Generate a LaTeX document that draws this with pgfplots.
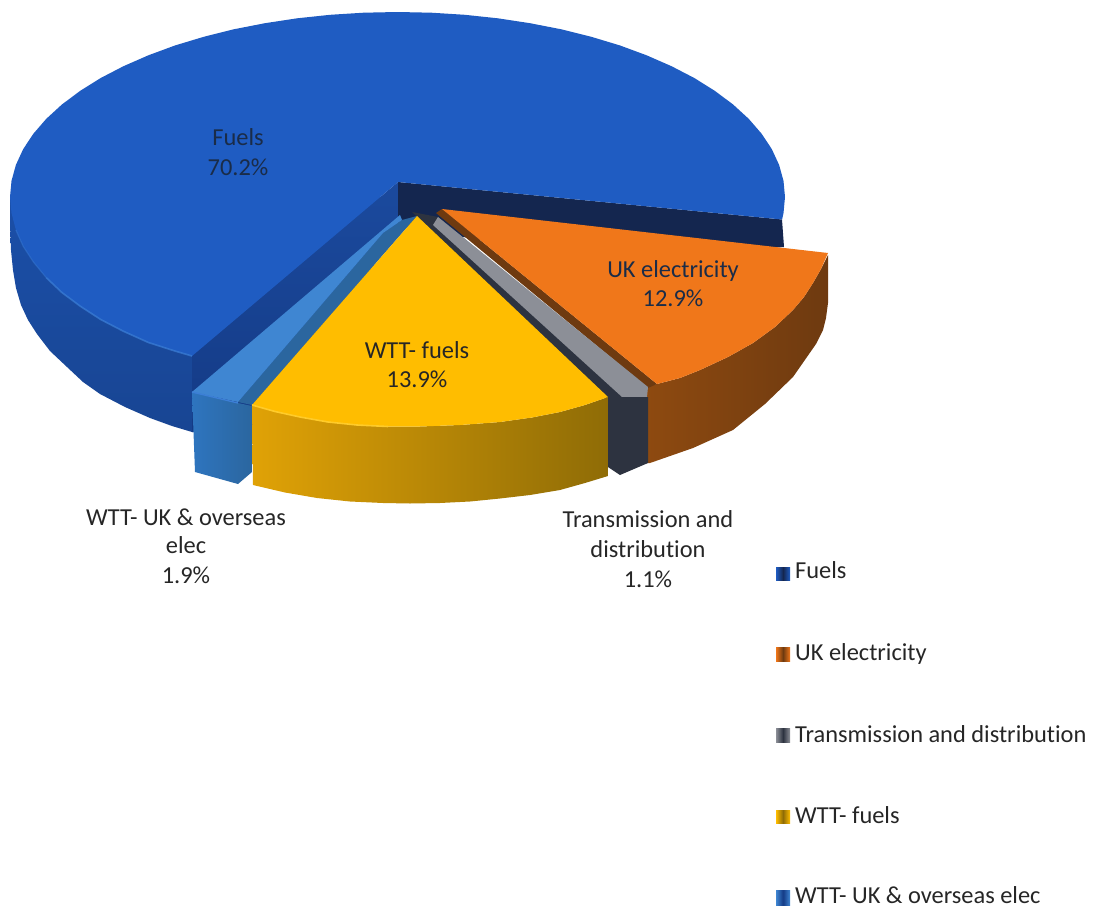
\documentclass[border=0pt]{standalone}
\usepackage{fontspec}
\setmainfont{Carlito}[Ligatures=CommonOff]
\usepackage{pgfplots}
\pgfplotsset{compat=1.18}
\definecolor{fueltop}{HTML}{1F5CC2}
\definecolor{fuelside}{HTML}{1B4FA8}
\definecolor{fuelsidedark}{HTML}{184593}
\definecolor{fuelwallL}{HTML}{143A85}
\definecolor{fuelwallU}{HTML}{1B4A9E}
\definecolor{fuelwallR}{HTML}{14264F}
\definecolor{fuelglow}{HTML}{3C7FD6}
\definecolor{elec}{HTML}{F0771A}
\definecolor{elecwall}{HTML}{6E3A10}
\definecolor{elecsideA}{HTML}{8E4A10}
\definecolor{tdtop}{HTML}{8C8F97}
\definecolor{tdwall}{HTML}{2D3340}
\definecolor{wtt}{HTML}{FFBD00}
\definecolor{wttglow}{HTML}{FFCB2A}
\definecolor{wttA}{HTML}{E0A206}
\definecolor{wttB}{HTML}{B98800}
\definecolor{wttC}{HTML}{8F6C06}
\definecolor{ovtop}{HTML}{3F86D2}
\definecolor{ovwall}{HTML}{2B669F}
\definecolor{ovfront}{HTML}{2E75BF}
\definecolor{ink}{HTML}{262626}
\definecolor{inkdark}{HTML}{1A2C48}
\newcommand{\lab}[3]{\node[anchor=base,inner sep=0pt,text=#3] at (axis cs:#1) {#2};}
\newcommand{\leg}[2]{\node[anchor=base west,inner sep=0pt,text=ink] at (axis cs:795,#1) {#2};}
\begin{document}
\begin{tikzpicture}
\begin{axis}[
  scale only axis, width=1097pt, height=910pt,
  xmin=0, xmax=1097, ymin=0, ymax=910, y dir=reverse,
  axis lines=none, no markers, clip=false,
  every axis plot/.append style={draw=none, line join=round},
  font=\fontsize{24.4}{28}\selectfont,
]
% Frame that fixes the extent of the page
\addplot[draw=none, fill=none] coordinates {(0,0) (1097,0) (1097,910) (0,910)} -- cycle;
% Fuels: outer wall
\addplot[top color=fuelside, bottom color=fuelsidedark] coordinates {
 (10,197) (10,225) (11,250) (13,270) (16,288) (21,305) (28,320) (37,334) (50,351) (67,367)
 (83,382) (100,394) (125,407) (150,418) (172,426) (192,432)
 (260,432) (398,230) (398,197)} -- cycle;
% Fuels: cut faces
\addplot[top color=fuelwallU, bottom color=fuelwallL] coordinates {
 (398,182) (192,356) (192,432) (260,432) (400,226)} -- cycle;
\addplot[fill=fuelwallR] coordinates {
 (398,182) (782,219.5) (784,247) (600,260) (398,226)} -- cycle;
% Fuels: top face
\addplot[fill=fueltop] coordinates {
 (398,182) (782.1,219.5) (783.5,213.1) (785,197) (783.5,180.9) (779.1,164.9) (771.8,149.1)
 (761.6,133.7) (748.7,118.8) (733.1,104.5) (714.9,90.9) (694.3,78.0) (671.5,66.2)
 (646.6,55.3) (619.8,45.4) (591.3,36.8) (561.3,29.3) (530.0,23.2) (497.8,18.3)
 (464.8,14.8) (431.3,12.7) (397.5,12) (363.7,12.7) (330.2,14.8) (297.2,18.3) (265.0,23.2)
 (233.7,29.3) (203.8,36.8) (175.2,45.4) (148.4,55.3) (123.5,66.2) (100.7,78.0) (80.1,90.9)
 (61.9,104.5) (46.3,118.8) (33.4,133.7) (23.2,149.1) (15.9,164.9) (11.5,180.9) (10,197)
 (11.5,213.1) (15.9,230) (23.2,246.4) (33.4,262) (46.3,277.7) (61.9,292.5) (80.1,306.1)
 (100.7,319.5) (123.5,331.3) (148.4,342.5) (175.2,351.1) (192,356)} -- cycle;
% Fuels: lit rim along the lower edge of the top face
\addplot[draw=fuelglow, line width=1.6pt, opacity=.7] coordinates {
 (46.3,277.7) (61.9,292.5) (80.1,306.1) (100.7,319.5) (123.5,331.3) (148.4,342.5) (175.2,351.1) (192,356)};
\addplot[draw=fuelglow, line width=1.2pt, opacity=.4] coordinates {(15.9,230) (23.2,246.4) (33.4,262) (46.3,277.7)};
% UK electricity: outer wall, inner wall, top face
\addplot[left color=elecsideA, right color=elecwall] coordinates {
 (645,387) (657,384) (680,378) (700,370) (728,357) (753,343) (775,327) (793,310) (804,297)
 (813,283) (821,269) (828,255) (828,303) (826,318) (823,330) (816,344) (793,377) (765,404)
 (733,430) (693,448) (650,463) (645,463)} -- cycle;
\addplot[fill=elecwall] coordinates {(442,209) (657,384) (648,388) (436,213)} -- cycle;
\addplot[fill=elec] coordinates {
 (442,209) (828,253) (821,269) (813,283) (804,297) (793,310) (775,327) (753,343) (728,357)
 (700,370) (680,378) (657,384)} -- cycle;
% Transmission and distribution: inner wall, top face, front
\addplot[fill=tdwall] coordinates {(412,212) (438,217) (648,390) (622,398) (600,398)} -- cycle;
\addplot[fill=tdtop] coordinates {(438,217) (648,387) (647,397) (622,397) (433,225)} -- cycle;
\addplot[fill=tdwall] coordinates {(608,397) (648,397) (648,463) (620,475) (608,467)} -- cycle;
% WTT- UK & overseas elec: inner wall, top face, front
\addplot[fill=ovwall] coordinates {(383,233) (238,402) (252,405) (417,216) (402,220)} -- cycle;
\addplot[fill=ovtop] coordinates {(400,215) (192,392) (238,402) (383,233) (402,220)} -- cycle;
\addplot[left color=ovfront, right color=ovwall] coordinates {
 (192,392) (238,403) (252,406) (252,472) (238,484) (195,472)} -- cycle;
\addplot[draw=fuelglow, line width=1.4pt] coordinates {(192,392) (238,403)};
% WTT- fuels: outer wall, top face
\addplot[left color=wttA, middle color=wttB, right color=wttC] coordinates {
 (252,405) (275,411.5) (300,417) (328,422) (357,425) (388,426.5) (420,426.5) (460,425)
 (500,422) (532,417.5) (560,412) (585,405) (608,397)
 (608,476) (585,483) (560,490) (530,495) (500,498.5) (470,501.5) (440,503) (410,503.5)
 (383,503) (350,501.5) (317,498) (285,492.5) (253,485)} -- cycle;
\addplot[fill=wtt] coordinates {
 (417,216) (608,397) (585,405) (560,412) (532,417.5) (500,422) (460,425) (420,426.5)
 (388,426.5) (357,425) (328,422) (300,417) (275,411.5) (252,405)} -- cycle;
\addplot[draw=wttglow, line width=1.6pt] coordinates {
 (252,405) (275,411.5) (300,417) (328,422) (357,425) (388,426.5)};
% Data labels
\lab{238,145}{Fuels}{inkdark}
\lab{238,175}{70.2\%}{inkdark}
\lab{673,277}{UK electricity}{inkdark}
\lab{673,306}{12.9\%}{inkdark}
\lab{417,358}{WTT- fuels}{ink}
\lab{417,387}{13.9\%}{ink}
\lab{186,525}{WTT- UK \& overseas}{ink}
\lab{186,553}{elec}{ink}
\lab{186,583}{1.9\%}{ink}
\lab{648,527}{Transmission and}{ink}
\lab{648,557}{distribution}{ink}
\lab{648,587}{1.1\%}{ink}
% Legend keys
\addplot[left color=fueltop, right color=fueltop, middle color=fuelwallR] coordinates {(776,567) (790,567) (790,580) (776,580)} -- cycle;
\addplot[left color=elec, right color=elec, middle color=elecwall] coordinates {(776,647) (790,647) (790,661) (776,661)} -- cycle;
\addplot[left color=tdtop, right color=tdtop, middle color=tdwall] coordinates {(776,728) (790,728) (790,742) (776,742)} -- cycle;
\addplot[left color=wtt, right color=wtt, middle color=wttC] coordinates {(776,810) (790,810) (790,823) (776,823)} -- cycle;
\addplot[left color=ovtop, right color=ovtop, middle color=fuelwallL] coordinates {(776,890) (790,890) (790,905) (776,905)} -- cycle;
% Legend entries
\leg{578}{Fuels}
\leg{660}{UK electricity}
\leg{742}{Transmission and distribution}
\leg{823}{WTT- fuels}
\leg{903}{WTT- UK \& overseas elec}
\end{axis}
\end{tikzpicture}
\end{document}
